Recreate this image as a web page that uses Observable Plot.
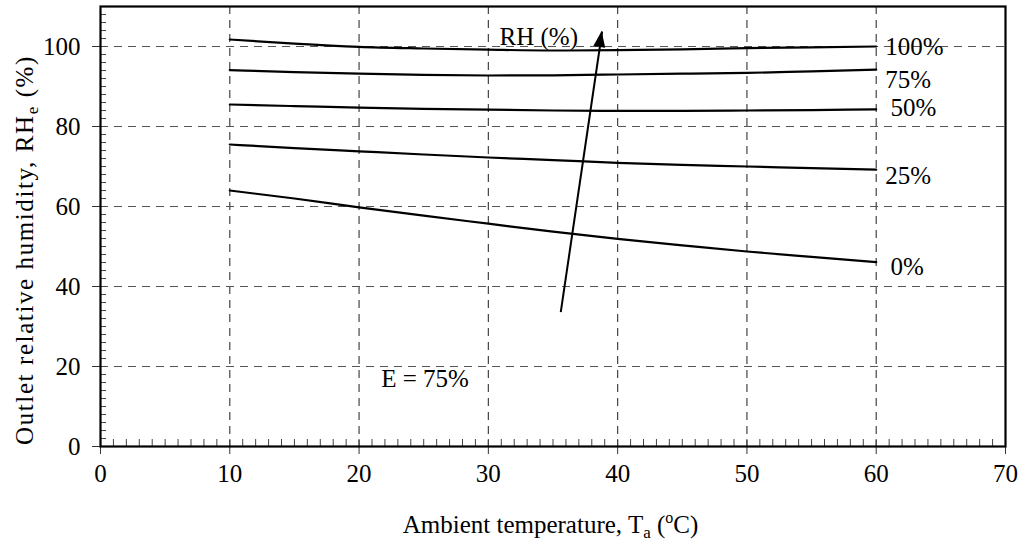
<!DOCTYPE html>
<html><head><meta charset="utf-8">
<script src="https://cdn.jsdelivr.net/npm/d3@7"></script>
<script src="https://cdn.jsdelivr.net/npm/@observablehq/plot@0.6"></script>
<style>body{margin:0;background:#fff}</style>
</head><body><div id="chart"></div>
<script>
// ---- data ----
const temps = [10, 15, 20, 25, 30, 35, 40, 45, 50, 55, 60];
const rh100 = [101.75, 100.7, 99.9, 99.5, 99.2, 99.0, 99.1, 99.3, 99.6, 99.8, 100.0];
const rh75  = [94.1, 93.6, 93.2, 92.9, 92.75, 92.8, 93.0, 93.2, 93.4, 93.8, 94.2];
const rh50  = [85.5, 85.1, 84.7, 84.4, 84.2, 84.0, 83.9, 83.9, 84.0, 84.1, 84.3];
const rh25  = [75.5, 74.6, 73.8, 73.0, 72.25, 71.6, 70.9, 70.4, 70.0, 69.6, 69.2];
const rh0   = [64.0, 62.0, 59.8, 57.7, 55.7, 53.7, 51.9, 50.3, 48.75, 47.4, 46.1];
const seriesNames = ["100%", "75%", "50%", "25%", "0%"];
const seriesValues = [rh100, rh75, rh50, rh25, rh0];
const labelY = [99.8, 91.6, 84.7, 67.6, 45.0];
const labelX = [60, 60, 60.4, 60, 60.4];
const xTicks = [0, 10, 20, 30, 40, 50, 60, 70];
const yTicks = [0, 20, 40, 60, 80, 100];
const xGrid = [10, 20, 30, 40, 50, 60];
const yGrid = [20, 40, 60, 80, 100];
const xMinor = d3.range(0, 71, 1);
const yMinor = d3.range(0, 111, 2);
const arrowStart = {x: 35.6, y: 33.6};
const arrowEnd = {x: 38.8, y: 103.75};
const rhNote = {x: 33.9, y: 102.3, text: "RH (%)"};
const eNote = {x: 25.1, y: 17, text: "E = 75%"};

const rows = seriesNames.flatMap((s, k) => temps.map((t, i) => ({T: t, RH: seriesValues[k][i], s})));
const labels = seriesNames.map((s, k) => ({label: s, x: labelX[k], y: labelY[k]}));

const FONT = "Liberation Serif, Times New Roman, serif";
const ns = "http://www.w3.org/2000/svg";

function arrowHead(index, scales) {
  const x1 = scales.x(arrowStart.x), y1 = scales.y(arrowStart.y);
  const x2 = scales.x(arrowEnd.x), y2 = scales.y(arrowEnd.y);
  const a = Math.atan2(y2 - y1, x2 - x1);
  const L = 16, W = 6;
  const bx = x2 - L * Math.cos(a), by = y2 - L * Math.sin(a);
  const px = -Math.sin(a) * W, py = Math.cos(a) * W;
  const p = document.createElementNS(ns, "path");
  p.setAttribute("d", `M${x2},${y2}L${bx + px},${by + py}L${bx - px},${by - py}Z`);
  p.setAttribute("fill", "black");
  return p;
}

function titles(index, scales, values, dims) {
  const g = document.createElementNS(ns, "g");
  g.setAttribute("font-family", FONT);
  g.setAttribute("font-size", "25");
  g.setAttribute("fill", "black");
  const cx = dims.marginLeft + (dims.width - dims.marginLeft - dims.marginRight) / 2;
  const tx = document.createElementNS(ns, "text");
  tx.setAttribute("x", cx - 2);
  tx.setAttribute("y", dims.height - 7);
  tx.setAttribute("text-anchor", "middle");
  tx.innerHTML = 'Ambient temperature, T<tspan dy="5" font-size="17">a</tspan><tspan dy="-5"> (</tspan><tspan dy="-10" font-size="16">o</tspan><tspan dy="10">C)</tspan>';
  g.appendChild(tx);
  const ty = document.createElementNS(ns, "text");
  const cy = dims.marginTop + (dims.height - dims.marginTop - dims.marginBottom) / 2;
  ty.setAttribute("transform", `translate(33,${cy + 24}) rotate(-90)`);
  ty.setAttribute("text-anchor", "middle");
  ty.setAttribute("letter-spacing", "1.6");
  ty.innerHTML = 'Outlet relative humidity, RH<tspan dy="5" font-size="17">e</tspan><tspan dy="-5"> (%)</tspan>';
  g.appendChild(ty);
  return g;
}

const txt = {fontFamily: FONT, fontSize: 25, fill: "black"};

const chart = Plot.plot({
  width: 1026, height: 540,
  marginLeft: 100, marginRight: 21, marginTop: 6, marginBottom: 94,
  x: {domain: [0, 70]},
  y: {domain: [0, 110]},
  style: {fontFamily: FONT, fontSize: "25px", color: "black", background: "white", overflow: "visible"},
  marks: [
    Plot.gridX(xGrid, {stroke: "#444", strokeOpacity: 1, strokeDasharray: "8,6", strokeWidth: 1.2}),
    Plot.gridY(yGrid, {stroke: "#555", strokeOpacity: 1, strokeDasharray: "8,6", strokeWidth: 1.2}),
    Plot.axisX(xMinor, {tickSize: -7, text: null, label: null, stroke: "#444"}),
    Plot.axisY(yMinor, {tickSize: -6, text: null, label: null, stroke: "#444"}),
    Plot.axisX(xTicks, {tickSize: 8, tickPadding: 10, label: null, stroke: "#333", ...txt}),
    Plot.axisY(yTicks, {tickSize: 8, tickPadding: 12, label: null, stroke: "#333", ...txt}),
    Plot.frame({stroke: "black", strokeWidth: 2.2}),
    Plot.line(rows, {x: "T", y: "RH", z: "s", stroke: "black", strokeWidth: 2.2, curve: "monotone-x"}),
    Plot.text(labels, {x: "x", y: "y", text: "label", textAnchor: "start", dx: 9, ...txt}),
    Plot.text([rhNote], {x: "x", y: "y", text: "text", ...txt}),
    Plot.text([eNote], {x: "x", y: "y", text: "text", ...txt}),
    Plot.link([{}], {x1: () => arrowStart.x, y1: () => arrowStart.y, x2: () => arrowEnd.x, y2: () => arrowEnd.y, stroke: "black", strokeWidth: 2}),
    arrowHead,
    titles
  ]
});
document.getElementById("chart").appendChild(chart);
</script>
</body></html>
